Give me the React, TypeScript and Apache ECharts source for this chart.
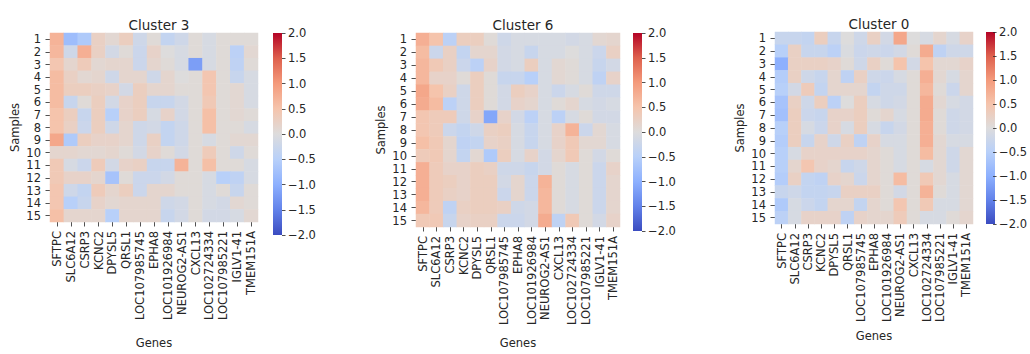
import React, { useEffect, useRef } from "react";
import * as echarts from "echarts";

const genes = [
  "SFTPC", "SLC6A12", "CSRP3", "KCNC2", "DPYSL5", "QRSL1", "LOC107985745", "EPHA8",
  "LOC101926984", "NEUROG2-AS1", "CXCL13", "LOC102724334", "LOC107985221", "IGLV1-41", "TMEM151A",
];
const samples = ["1", "2", "3", "4", "5", "6", "7", "8", "9", "10", "11", "12", "13", "14", "15"];
const titles = ["Cluster 3", "Cluster 6", "Cluster 0"];
const colorbarTicks = [-2, -1.5, -1, -0.5, 0, 0.5, 1, 1.5, 2];

const cluster3 = [
  [0.7, -0.8, -0.6, 0.25, 0.1, 0.3, -0.2, 0.05, -0.35, -0.2, 0.05, -0.1, 0.05, 0.05, 0.05],
  [0.65, -0.2, 0.75, 0.25, -0.15, 0.05, -0.25, 0.2, 0.0, -0.1, 0.05, -0.1, 0.05, -0.45, 0.1],
  [0.45, 0.15, 0.35, 0.1, 0.15, 0.15, -0.25, 0.15, 0.05, -0.1, -1.2, -0.1, 0.05, -0.4, 0.05],
  [0.6, 0.25, 0.1, 0.15, -0.2, 0.15, 0.15, -0.2, 0.15, 0.0, 0.05, 0.45, 0.05, -0.3, -0.1],
  [0.6, 0.3, 0.3, 0.25, 0.2, -0.15, 0.3, 0.15, 0.15, 0.05, 0.05, 0.45, 0.05, 0.1, -0.1],
  [0.6, -0.3, 0.05, 0.3, -0.15, 0.2, 0.3, -0.3, -0.3, -0.15, 0.05, 0.4, 0.05, 0.1, -0.1],
  [0.5, 0.3, -0.3, 0.3, -0.5, 0.2, 0.3, -0.1, 0.2, -0.15, 0.05, 0.55, 0.05, 0.1, 0.05],
  [0.5, 0.25, -0.25, 0.3, -0.2, 0.15, -0.2, -0.15, -0.35, -0.2, 0.05, 0.55, 0.05, 0.05, -0.1],
  [0.85, -0.6, 0.3, 0.2, 0.2, 0.15, -0.2, 0.25, -0.35, -0.2, 0.05, -0.1, 0.05, 0.1, 0.1],
  [0.15, 0.15, 0.1, 0.1, 0.15, 0.05, -0.15, 0.2, 0.05, -0.15, 0.05, 0.35, 0.05, -0.2, 0.05],
  [0.4, -0.1, -0.25, 0.35, -0.15, 0.2, 0.25, -0.3, -0.3, 0.7, 0.05, 0.55, 0.05, 0.05, -0.1],
  [0.4, 0.2, 0.2, 0.15, -0.7, 0.05, -0.25, -0.25, -0.15, 0.05, 0.05, -0.1, -0.5, -0.4, -0.1],
  [0.45, -0.2, -0.35, 0.35, 0.15, 0.3, -0.25, 0.15, 0.15, 0.05, 0.05, -0.1, 0.05, -0.3, 0.05],
  [0.45, -0.5, -0.3, 0.2, 0.1, 0.15, 0.15, 0.15, -0.2, -0.15, 0.05, -0.1, -0.15, 0.1, 0.05],
  [0.55, 0.15, 0.15, 0.15, -0.5, 0.15, 0.15, 0.15, -0.3, -0.15, 0.05, -0.15, -0.15, -0.1, 0.1],
];

const cluster6 = [
  [0.75, 0.5, -0.45, 0.3, 0.3, 0.05, -0.2, -0.1, -0.1, -0.1, -0.1, -0.15, -0.1, 0.1, 0.15],
  [0.6, -0.25, 0.25, -0.35, 0.15, 0.15, -0.15, -0.1, -0.3, -0.1, -0.1, 0.0, -0.1, -0.25, 0.25],
  [0.65, 0.4, 0.25, -0.25, -0.45, 0.2, -0.15, -0.1, 0.3, -0.1, 0.1, 0.05, -0.1, -0.3, -0.15],
  [0.65, 0.2, 0.2, 0.05, 0.3, 0.05, -0.3, -0.3, -0.5, -0.1, 0.1, 0.05, -0.1, -0.4, 0.2],
  [0.85, 0.5, 0.25, -0.2, 0.3, 0.05, -0.15, 0.3, 0.2, -0.1, -0.25, -0.1, 0.05, -0.2, -0.2],
  [0.8, 0.6, -0.45, -0.2, 0.3, 0.05, -0.15, 0.2, 0.15, -0.1, 0.05, 0.15, -0.1, -0.15, -0.1],
  [0.45, 0.35, 0.35, -0.2, 0.2, -1.1, 0.2, -0.15, -0.45, -0.1, -0.45, -0.1, 0.05, -0.15, -0.15],
  [0.45, 0.35, -0.25, -0.35, -0.2, 0.25, 0.3, -0.1, -0.3, -0.1, 0.2, 0.7, -0.25, 0.1, -0.1],
  [0.55, 0.4, 0.15, -0.4, -0.35, 0.2, 0.25, -0.1, -0.3, -0.1, 0.2, 0.4, 0.1, 0.1, -0.1],
  [0.35, 0.4, 0.15, -0.35, 0.1, -0.6, 0.3, -0.1, 0.2, -0.15, 0.15, 0.4, 0.05, -0.15, 0.05],
  [0.75, 0.35, 0.2, 0.2, 0.3, 0.25, -0.2, -0.2, -0.3, -0.15, 0.05, -0.1, 0.05, -0.25, 0.2],
  [0.75, 0.35, 0.3, 0.2, 0.3, 0.3, -0.15, 0.15, -0.25, 0.7, 0.05, -0.1, 0.05, -0.25, 0.15],
  [0.75, 0.35, 0.25, 0.2, 0.3, 0.3, -0.25, 0.15, -0.25, 0.65, 0.05, -0.1, 0.05, -0.25, 0.15],
  [0.65, 0.35, -0.4, 0.25, 0.3, 0.3, 0.25, -0.2, -0.15, 0.65, 0.05, -0.1, 0.05, -0.25, 0.15],
  [0.4, 0.4, -0.3, 0.2, 0.25, 0.25, -0.25, -0.25, -0.15, 0.8, -0.4, 0.4, 0.05, -0.15, 0.2],
];

const cluster0 = [
  [-0.3, -0.3, -0.35, 0.3, -0.3, 0.0, -0.2, 0.25, -0.15, 0.85, 0.0, -0.1, 0.15, -0.1, 0.2],
  [-0.5, 0.25, -0.3, -0.3, -0.45, -0.05, -0.25, -0.2, -0.25, -0.15, 0.05, 0.8, -0.4, -0.2, -0.2],
  [-1.0, 0.25, 0.25, 0.25, 0.2, 0.05, -0.2, 0.25, 0.05, 0.5, -0.15, 0.5, 0.1, 0.1, 0.2],
  [-0.55, 0.25, -0.2, -0.3, 0.15, -0.4, 0.25, -0.2, -0.25, -0.1, 0.05, 0.75, 0.1, -0.1, 0.15],
  [-0.5, -0.15, 0.35, -0.35, 0.15, 0.15, 0.15, -0.35, -0.2, -0.2, 0.05, 0.65, 0.05, -0.25, 0.15],
  [-0.7, 0.25, -0.2, 0.3, -0.45, 0.0, 0.3, -0.1, -0.2, -0.15, 0.05, 0.8, 0.1, -0.1, -0.15],
  [-0.75, 0.3, -0.25, -0.3, 0.2, 0.2, 0.3, 0.05, 0.15, -0.1, 0.05, 0.8, 0.05, -0.2, -0.15],
  [-0.5, 0.3, -0.1, -0.25, 0.2, -0.1, 0.3, -0.1, -0.3, -0.15, 0.05, 0.75, 0.05, -0.2, -0.15],
  [-0.55, 0.3, -0.3, 0.2, -0.2, 0.25, -0.4, 0.2, -0.1, -0.1, 0.05, 0.75, 0.1, -0.1, -0.1],
  [-0.5, -0.1, 0.2, 0.2, 0.2, 0.2, 0.2, 0.15, 0.05, -0.1, 0.05, 0.6, 0.1, -0.2, 0.1],
  [-0.5, 0.15, 0.45, 0.2, 0.15, -0.3, -0.2, 0.15, 0.05, -0.1, 0.05, -0.1, 0.1, -0.2, 0.1],
  [-0.55, 0.25, -0.35, -0.4, 0.2, 0.15, -0.25, 0.15, 0.05, 0.6, 0.05, 0.4, 0.1, -0.1, 0.1],
  [-0.3, -0.2, -0.35, -0.35, -0.3, 0.25, 0.25, 0.25, 0.05, -0.15, 0.05, 0.7, 0.05, -0.1, 0.1],
  [-0.6, -0.1, -0.25, -0.35, 0.15, 0.15, -0.35, 0.15, 0.05, 0.45, 0.05, 0.4, -0.1, -0.1, 0.1],
  [-0.45, -0.1, 0.2, 0.2, 0.2, -0.4, 0.2, 0.15, 0.15, 0.35, 0.05, -0.1, -0.1, 0.05, 0.15],
];

const matrices = [cluster3, cluster6, cluster0];

const coolwarm = [
  "#3b4cc0", "#6282ea", "#8db0fe", "#b8d0f9", "#dddcdc",
  "#f5c4ac", "#f49a7b", "#de604d", "#b40426",
];

// layout (pixels)
const heatGrids = [
  { left: 50, top: 33, width: 208, height: 202 },
  { left: 416, top: 33, width: 204, height: 198 },
  { left: 775, top: 32, width: 198, height: 192 },
];
const barGrids = [
  { left: 273, top: 33, width: 9, height: 202 },
  { left: 633, top: 33, width: 9, height: 198 },
  { left: 986, top: 32, width: 9, height: 192 },
];
const genesGap = [115, 110, 102];

const FONT = "DejaVu Sans";
const TXT = "#262626";
const TICK_FS = 11.5;

function toTriples(m: number[][]) {
  const out: [number, number, number][] = [];
  m.forEach((row, r) => row.forEach((v, c) => out.push([c, r, v])));
  return out;
}

function fmt(v: number) {
  return (v < 0 ? "\u2212" : "") + Math.abs(v).toFixed(1);
}

export default function App() {
  const ref = useRef<HTMLDivElement>(null);
  useEffect(() => {
    document.body.style.margin = "0";
    if (!ref.current) return;
    const chart = echarts.init(ref.current, undefined, { renderer: "svg" });

    const grids: any[] = [];
    const xAxes: any[] = [];
    const yAxes: any[] = [];
    const series: any[] = [];
    const graphics: any[] = [];
    const titleOpts: any[] = [];

    heatGrids.forEach((g, i) => {
      grids.push({ ...g, containLabel: false, show: false });
      xAxes.push({
        type: "category",
        gridIndex: i,
        data: genes,
        position: "bottom",
        axisLine: { show: false },
        axisTick: { show: true, alignWithLabel: true, length: 4.5, lineStyle: { color: TXT, width: 0.8 } },
        axisLabel: { rotate: 90, interval: 0, fontSize: TICK_FS, fontFamily: FONT, color: TXT, margin: 9 },
        splitLine: { show: false },
        name: "Genes",
        nameLocation: "middle",
        nameGap: genesGap[i],
        nameTextStyle: { fontSize: TICK_FS, fontFamily: FONT, color: TXT },
      });
      yAxes.push({
        type: "category",
        gridIndex: i,
        data: samples,
        inverse: true,
        axisLine: { show: false },
        axisTick: { show: true, alignWithLabel: true, length: 4.5, lineStyle: { color: TXT, width: 0.8 } },
        axisLabel: { interval: 0, fontSize: TICK_FS, fontFamily: FONT, color: TXT, margin: 9 },
        splitLine: { show: false },
        name: "Samples",
        nameLocation: "middle",
        nameGap: 29,
        nameRotate: 90,
        nameTextStyle: { fontSize: TICK_FS, fontFamily: FONT, color: TXT },
      });
      series.push({
        type: "heatmap",
        xAxisIndex: i,
        yAxisIndex: i,
        data: toTriples(matrices[i]),
        itemStyle: { borderWidth: 0 },
        emphasis: { disabled: true },
        progressive: 0,
      });
      titleOpts.push({
        text: titles[i],
        left: g.left + g.width / 2,
        top: g.top - 20,
        textAlign: "center",
        textStyle: { fontSize: 13.5, fontWeight: "normal", fontFamily: FONT, color: TXT },
      });
    });

    barGrids.forEach((g, i) => {
      const gi = heatGrids.length + i;
      grids.push({ ...g, containLabel: false, show: false });
      xAxes.push({ type: "category", gridIndex: gi, data: [""], show: false });
      yAxes.push({
        type: "value",
        gridIndex: gi,
        min: colorbarTicks[0],
        max: colorbarTicks[colorbarTicks.length - 1],
        interval: 0.5,
        position: "right",
        axisLine: { show: false },
        splitLine: { show: false },
        axisTick: { show: true, length: 3.5, lineStyle: { color: TXT, width: 0.8 } },
        axisLabel: { fontSize: TICK_FS, fontFamily: FONT, color: TXT, margin: 6, formatter: (v: number) => fmt(v) },
      });
      graphics.push({
        type: "rect",
        left: g.left,
        top: g.top,
        shape: { width: g.width, height: g.height },
        style: {
          fill: new echarts.graphic.LinearGradient(
            0, 0, 0, 1,
            coolwarm
              .slice()
              .reverse()
              .map((c, k) => ({ offset: k / (coolwarm.length - 1), color: c }))
          ),
        },
        silent: true,
      });
    });

    chart.setOption({
      animation: false,
      backgroundColor: "#ffffff",
      title: titleOpts,
      grid: grids,
      xAxis: xAxes,
      yAxis: yAxes,
      visualMap: {
        type: "continuous",
        show: false,
        min: -2,
        max: 2,
        seriesIndex: [0, 1, 2],
        inRange: { color: coolwarm },
      },
      graphic: graphics,
      series,
    });
    return () => chart.dispose();
  }, []);
  return <div ref={ref} style={{ width: 1030, height: 354 }} />;
}
